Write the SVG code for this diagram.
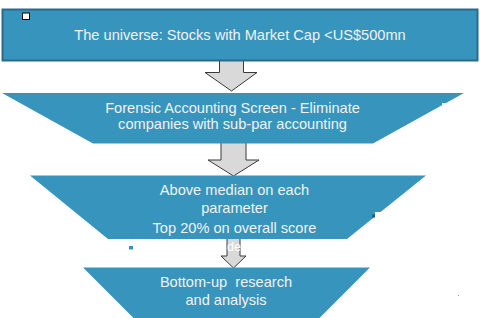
<svg xmlns="http://www.w3.org/2000/svg" width="480" height="318" viewBox="0 0 480 318">
<style>
.box{fill:#3795bd}
.arr{fill:#d9d9d9;stroke:#3a3a3a;stroke-width:1}
.t{font-family:"Liberation Sans",Arial,sans-serif;font-size:14.6px;fill:#f2f2f2;text-anchor:middle}
</style>
<rect width="480" height="318" fill="#ffffff"/>
<g id="connectors">
<polygon class="arr" points="219.5,58 243.5,58 243.5,72.5 257,72.5 231.5,91 205,72.5 219.5,72.5"/>
<polygon class="arr" points="221,140 246,140 246,160 259,160 233.5,176 208,160 221,160"/>
<polygon class="arr" points="227,236 240,236 240,256 246,256 233.5,268 221,256 227,256"/>
</g>
<g id="n1">
<rect x="2.5" y="9.5" width="475" height="51" class="box" stroke="#2a6a8a" stroke-width="2"/>
<rect x="22.5" y="13" width="7" height="6.5" fill="#ffffff" stroke="#000000" stroke-width="1"/>
<text class="t" x="240" y="40">The universe: Stocks with Market Cap &lt;US$500mn</text>
</g>
<g id="n2">
<polygon class="box" points="2,93 464,93 373,143.5 93,143.5"/>
<rect x="442" y="103" width="6" height="2.5" fill="#ffffff"/>
<text class="t" x="232.5" y="113">Forensic Accounting Screen - Eliminate</text>
<text class="t" x="232.5" y="129">companies with sub-par accounting</text>
</g>
<g id="n3">
<polygon class="box" points="30,175.5 426,175.5 347,239 108,239"/>
<rect x="375" y="212" width="10" height="7" fill="#ffffff"/>
<rect x="372" y="214.5" width="3" height="3" fill="#1f5f80"/>
<text class="t" x="234.5" y="195">Above median on each</text>
<text class="t" x="234.5" y="213">parameter</text>
<text class="t" x="234.5" y="233">Top 20% on overall score</text>
</g>
<text x="227" y="251" font-family="Liberation Sans,Arial,sans-serif" font-size="12.5" fill="#ffffff">de</text>
<rect x="129" y="246" width="4" height="3.5" fill="#3795bd"/>
<g id="n4">
<polygon class="box" points="83,267.5 370,267.5 319,318.5 134,318.5"/>
<text class="t" x="226" y="287.3" style="white-space:pre" xml:space="preserve">Bottom-up  research</text>
<text class="t" x="226" y="305">and analysis</text>
</g>
<rect x="458" y="295" width="1" height="1" fill="#999999"/>
</svg>
